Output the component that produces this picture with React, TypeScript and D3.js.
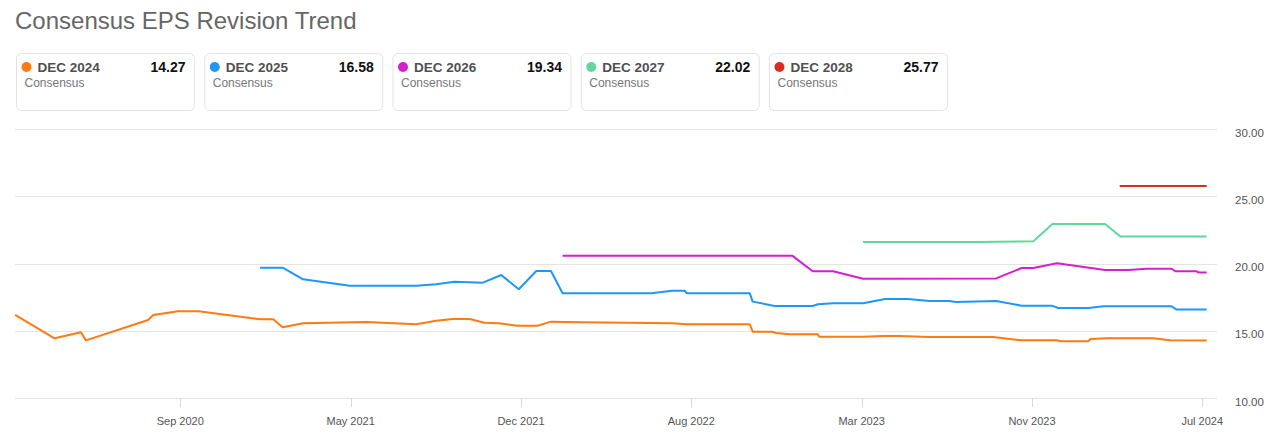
import React from "react";
import * as d3 from "d3";

const seriesLabels = ["DEC 2024", "DEC 2025", "DEC 2026", "DEC 2027", "DEC 2028"];
const latestValues = [14.27, 16.58, 19.34, 22.02, 25.77];
const seriesColors = ["#ff7a12", "#1e96fc", "#d41fd0", "#5fd89e", "#dc2c1e"];
const yTicks = [10, 15, 20, 25, 30];
const xTickDates = ["2020-09-10", "2021-05-01", "2021-12-20", "2022-08-10", "2023-03-31", "2023-11-19", "2024-07-09"];

const dec2024: [string, number][] = [
  ["2020-01-28", 16.18], ["2020-03-22", 14.44], ["2020-04-27", 14.89], ["2020-05-04", 14.29],
  ["2020-07-28", 15.8], ["2020-08-04", 16.18], ["2020-09-07", 16.45], ["2020-10-05", 16.45],
  ["2020-12-28", 15.86], ["2021-01-15", 15.86], ["2021-01-28", 15.26], ["2021-02-25", 15.56],
  ["2021-05-22", 15.65], ["2021-07-30", 15.48], ["2021-08-26", 15.75], ["2021-09-18", 15.88],
  ["2021-10-11", 15.88], ["2021-10-31", 15.6], ["2021-11-20", 15.56], ["2021-12-15", 15.38],
  ["2022-01-12", 15.38], ["2022-01-30", 15.68], ["2022-03-10", 15.63], ["2022-07-15", 15.56],
  ["2022-08-03", 15.48], ["2022-10-29", 15.48], ["2022-11-02", 14.93], ["2022-11-29", 14.93],
  ["2022-12-04", 14.84], ["2022-12-22", 14.74], ["2023-01-30", 14.74], ["2023-02-01", 14.56],
  ["2023-04-02", 14.56], ["2023-04-29", 14.61], ["2023-05-22", 14.61], ["2023-07-02", 14.54],
  ["2023-09-27", 14.54], ["2023-11-05", 14.29], ["2023-12-23", 14.29], ["2023-12-28", 14.22],
  ["2024-02-04", 14.22], ["2024-02-07", 14.39], ["2024-03-01", 14.44], ["2024-05-03", 14.44],
  ["2024-05-26", 14.29], ["2024-07-15", 14.27],
];

const dec2025: [string, number][] = [
  ["2020-12-28", 19.7], ["2021-01-28", 19.7], ["2021-02-25", 18.83], ["2021-04-30", 18.36],
  ["2021-07-30", 18.36], ["2021-08-26", 18.46], ["2021-09-20", 18.65], ["2021-10-29", 18.58],
  ["2021-11-23", 19.15], ["2021-12-17", 18.09], ["2022-01-10", 19.45], ["2022-01-30", 19.45],
  ["2022-02-15", 17.79], ["2022-06-16", 17.79], ["2022-07-15", 17.98], ["2022-08-01", 17.98],
  ["2022-08-04", 17.79], ["2022-10-29", 17.79], ["2022-11-02", 17.17], ["2022-12-02", 16.85],
  ["2023-01-23", 16.85], ["2023-01-30", 16.97], ["2023-02-20", 17.05], ["2023-04-02", 17.05],
  ["2023-05-02", 17.37], ["2023-06-02", 17.37], ["2023-07-02", 17.22], ["2023-07-29", 17.22],
  ["2023-08-07", 17.14], ["2023-10-01", 17.22], ["2023-11-05", 16.87], ["2023-12-16", 16.87],
  ["2023-12-25", 16.7], ["2024-02-04", 16.7], ["2024-02-25", 16.82], ["2024-05-28", 16.82],
  ["2024-06-04", 16.58], ["2024-07-15", 16.58],
];

const dec2026: [string, number][] = [
  ["2022-02-15", 20.59], ["2022-12-26", 20.59], ["2023-01-23", 19.43], ["2023-02-20", 19.43],
  ["2023-04-02", 18.87], ["2023-10-01", 18.9], ["2023-11-05", 19.67], ["2023-11-21", 19.67],
  ["2023-12-23", 20.02], ["2024-02-27", 19.52], ["2024-03-30", 19.52], ["2024-04-24", 19.62],
  ["2024-05-28", 19.62], ["2024-06-02", 19.43], ["2024-07-01", 19.43], ["2024-07-04", 19.34],
  ["2024-07-15", 19.34],
];

const dec2027: [string, number][] = [
  ["2023-04-02", 21.61], ["2023-09-04", 21.61], ["2023-11-21", 21.66], ["2023-12-17", 22.95],
  ["2024-02-27", 22.95], ["2024-03-19", 22.02], ["2024-07-15", 22.02],
];

const dec2028: [string, number][] = [
  ["2024-03-18", 25.77], ["2024-07-15", 25.77],
];

const allSeries = [dec2024, dec2025, dec2026, dec2027, dec2028];

const W = 1280;
const H = 446;
const FONT = "'Liberation Sans', Arial, Helvetica, sans-serif";

export default function App() {
  const parse = d3.utcParse("%Y-%m-%d");
  const tickDates = xTickDates.map((d) => parse(d) as Date);
  const x = d3
    .scaleUtc()
    .domain([tickDates[0], tickDates[tickDates.length - 1]])
    .range([180.3, 1202.3]);
  const y = d3.scaleLinear().domain([10, 30]).range([398, 129.2]);
  const plotLeft = 15;
  const plotRight = 1217;
  const fmt = d3.utcFormat("%b %Y");

  const line = d3
    .line<[string, number]>()
    .x((d) => x(parse(d[0]) as Date))
    .y((d) => y(d[1]))
    .curve(d3.curveLinear);

  const cardW = 178;
  const cardStride = 188.25;

  return (
    <svg
      width={W}
      height={H}
      style={{ position: "absolute", left: 0, top: 0, background: "#fff" }}
      fontFamily={FONT}
    >
      <text x={15} y={29} fontSize={24} fill="#666">
        Consensus EPS Revision Trend
      </text>

      {seriesLabels.map((lab, i) => {
        const cx = 16 + i * cardStride;
        return (
          <g key={lab}>
            <rect x={cx + 0.5} y={53.5} width={cardW} height={57} rx={5} fill="#fff" stroke="#e3e3e3" />
            <circle cx={cx + 10.5} cy={67} r={5} fill={seriesColors[i]} />
            <text x={cx + 21.5} y={71.5} fontSize={13.5} fontWeight="bold" fill="#505050">
              {lab}
            </text>
            <text x={cx + 169.5} y={71.5} fontSize={14} fontWeight="bold" fill="#111" textAnchor="end">
              {latestValues[i].toFixed(2)}
            </text>
            <text x={cx + 8.5} y={87} fontSize={12} fill="#777">
              Consensus
            </text>
          </g>
        );
      })}

      {yTicks.map((t) => (
        <g key={t}>
          <line x1={plotLeft} x2={plotRight} y1={Math.round(y(t)) + 0.5} y2={Math.round(y(t)) + 0.5} stroke="#e4e4e4" strokeWidth={1} />
          <text x={1235} y={y(t) + 7.5} fontSize={11.5} fill="#555">
            {t.toFixed(2)}
          </text>
        </g>
      ))}

      {tickDates.map((d, i) => (
        <g key={i}>
          <line x1={Math.round(x(d)) + 0.5} x2={Math.round(x(d)) + 0.5} y1={398} y2={407} stroke="#d8d8d8" />
          <text x={x(d)} y={425} fontSize={11} fill="#555" textAnchor="middle">
            {fmt(d)}
          </text>
        </g>
      ))}

      {allSeries.map((s, i) => (
        <path key={i} d={line(s) || ""} fill="none" stroke={seriesColors[i]} strokeWidth={2} strokeLinejoin="round" />
      ))}
    </svg>
  );
}
